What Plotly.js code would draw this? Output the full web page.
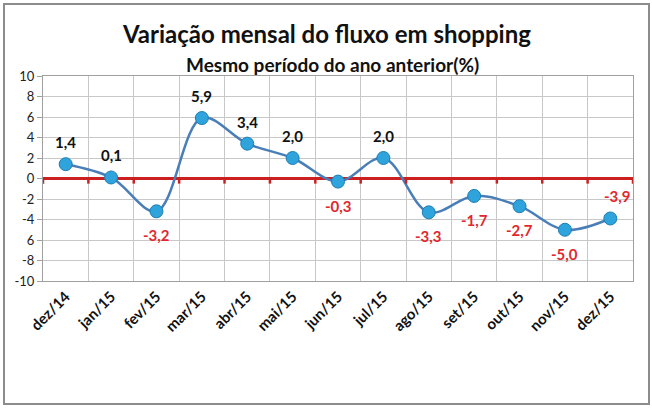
<!DOCTYPE html>
<html>
<head>
<meta charset="utf-8">
<script src="https://cdn.plot.ly/plotly-3.0.1.min.js"></script>
<style>
html,body{margin:0;padding:0;background:#fff;}
#wrap{position:relative;width:652px;height:408px;}
#chart{position:absolute;left:0;top:0;width:652px;height:408px;}
#frame{position:absolute;left:3px;top:3px;width:643px;height:398px;border:2px solid #8c8c8c;pointer-events:none;}
</style>
</head>
<body>
<div id="wrap"><div id="chart"></div><div id="frame"></div></div>
<script>
const months = ["dez/14","jan/15","fev/15","mar/15","abr/15","mai/15","jun/15","jul/15","ago/15","set/15","out/15","nov/15","dez/15"];
const values = [1.4, 0.1, -3.2, 5.9, 3.4, 2.0, -0.3, 2.0, -3.3, -1.7, -2.7, -5.0, -3.9];
const yTickVals = [-10,-8,-6,-4,-2,0,2,4,6,8,10];
const yTickText = ["-10","-8","6","-4","-2","0","2","4","6","8","10"];

const labels = values.map(v => v.toFixed(1).replace(".", ","));

const trace = {
  x: months, y: values, type: "scatter", mode: "lines+markers",
  line: {shape: "spline", smoothing: 1, color: "#4a7eb8", width: 2.5},
  marker: {size: 13, color: "#2ea3dc", line: {color: "#1d7fb5", width: 1}},
  cliponaxis: false, hoverinfo: "skip"
};

const labelAnns = values.map((v, i) => {
  const last = i === values.length - 1;
  const up = v >= 0 || last;
  return {
    x: months[i], y: v, xref: "x", yref: "y", showarrow: false,
    text: "<b>" + labels[i] + "</b>",
    yshift: up ? 22 : -24, xshift: last ? 7 : 0,
    font: {family: "Lato, sans-serif", size: 15, color: v >= 0 ? "#111111" : "#e0282e"}
  };
});

// small tick marks along the zero line at category boundaries
const boundaryTicks = months.concat([""]).map((m, i) => ({
  type: "line", xref: "x", yref: "y", layer: "above",
  x0: i - 0.5, x1: i - 0.5, y0: 0, y1: -0.5,
  line: {color: "#cc1f1f", width: 2.5}
}));

const layout = {
  width: 652, height: 408,
  margin: {l: 43, r: 19, t: 76, b: 127},
  paper_bgcolor: "#ffffff", plot_bgcolor: "#ffffff",
  showlegend: false,
  font: {family: "Lato, sans-serif", color: "#222"},
  shapes: boundaryTicks,
  annotations: [
    {text: "<b>Variação mensal do fluxo em shopping</b>", xref: "paper", yref: "paper", x: 0.48, y: 1, yshift: 43, showarrow: false, font: {family: "Lato, sans-serif", size: 24, color: "#111"}, yanchor: "middle"},
    {text: "<b>Mesmo período do ano anterior(%)</b>", xref: "paper", yref: "paper", x: 0.49, y: 1, yshift: 12, showarrow: false, font: {family: "Lato, sans-serif", size: 19, color: "#111"}, yanchor: "middle"}
  ].concat(labelAnns),
  xaxis: {
    type: "category", tickson: "boundaries", showgrid: true, gridcolor: "#c8c8c8", gridwidth: 1,
    ticks: "", tickangle: -45, tickfont: {family: "Lato, sans-serif", size: 15, color: "#111", weight: "bold"},
    showline: true, linecolor: "#a0a0a0", mirror: true, zeroline: false,
    range: [-0.5, 12.5]
  },
  yaxis: {
    range: [-10, 10], tickvals: yTickVals, ticktext: yTickText,
    showgrid: true, gridcolor: "#c8c8c8", gridwidth: 1,
    ticks: "outside", ticklen: 5, tickcolor: "#a0a0a0",
    tickfont: {family: "Lato, sans-serif", size: 13, color: "#222"},
    showline: true, linecolor: "#a0a0a0", mirror: true,
    zeroline: true, zerolinecolor: "#cc1f1f", zerolinewidth: 3
  }
};

Plotly.newPlot("chart", [trace], layout, {staticPlot: true});
</script>
</body>
</html>
